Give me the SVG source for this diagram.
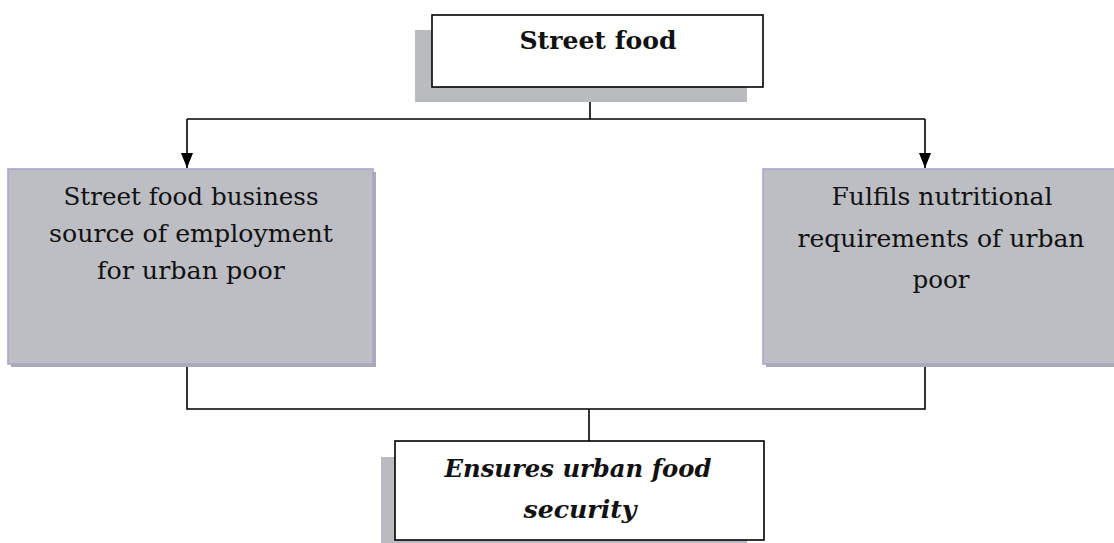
<svg xmlns="http://www.w3.org/2000/svg" width="1114" height="543" viewBox="0 0 1114 543">
<style>
.shadow{fill:#b9bbbf;stroke:none}
.white{fill:#ffffff;stroke:#000000;stroke-width:1.6}
.gray{fill:#bcbec3;stroke:#aaa5cf;stroke-width:1.6}
.gshadow{fill:#a9abb0;stroke:none}
.txt{font-family:"DejaVu Serif","Liberation Serif",serif;font-size:24px;fill:#111;text-anchor:middle}
.bold{font-weight:bold}
.bi{font-weight:bold;font-style:italic}
.conn{fill:none;stroke:#000;stroke-width:1.6}
</style>
<defs>
<marker id="arr" markerWidth="15" markerHeight="12" viewBox="0 0 15 12" refX="15" refY="6" orient="auto" markerUnits="userSpaceOnUse">
<path d="M0,0 L15,6 L0,12 Z" fill="#000"/>
</marker>
</defs>
<g id="connectors">
<path class="conn" d="M590,87 V119"/>
<path class="conn" d="M187,119 H925"/>
<path class="conn" d="M187,119 V168" marker-end="url(#arr)"/>
<path class="conn" d="M925,119 V168" marker-end="url(#arr)"/>
<path class="conn" d="M187,365 V409 H925 V365"/>
<path class="conn" d="M589,409 V441"/>
</g>
<g id="node-street-food">
<rect class="shadow" x="415" y="30" width="332" height="72"/>
<rect class="white" x="432" y="15" width="331" height="72"/>
<text class="txt bold" x="598" y="49" font-size="27" textLength="157" lengthAdjust="spacingAndGlyphs">Street food</text>
</g>
<g id="node-employment">
<rect class="gshadow" x="11" y="172" width="365" height="195"/>
<rect class="gray" x="8" y="169" width="365" height="195"/>
<text class="txt" x="191" y="205" textLength="255" lengthAdjust="spacingAndGlyphs">Street food business</text>
<text class="txt" x="191" y="242" textLength="284" lengthAdjust="spacingAndGlyphs">source of employment</text>
<text class="txt" x="191" y="279" textLength="188" lengthAdjust="spacingAndGlyphs">for urban poor</text>
</g>
<g id="node-nutrition">
<rect class="gshadow" x="766" y="172" width="350" height="195"/>
<rect class="gray" x="763" y="169" width="360" height="195"/>
<text class="txt" x="942" y="205" textLength="221" lengthAdjust="spacingAndGlyphs">Fulfils nutritional</text>
<text class="txt" x="941" y="247" textLength="287" lengthAdjust="spacingAndGlyphs">requirements of urban</text>
<text class="txt" x="941" y="288" textLength="57" lengthAdjust="spacingAndGlyphs">poor</text>
</g>
<g id="node-security">
<rect class="shadow" x="381" y="457" width="366" height="100"/>
<rect class="white" x="395" y="441" width="369" height="99"/>
<text class="txt bi" x="578" y="477" font-size="23" textLength="267" lengthAdjust="spacingAndGlyphs">Ensures urban food</text>
<text class="txt bi" x="580" y="518" font-size="23" textLength="113" lengthAdjust="spacingAndGlyphs">security</text>
</g>
</svg>
